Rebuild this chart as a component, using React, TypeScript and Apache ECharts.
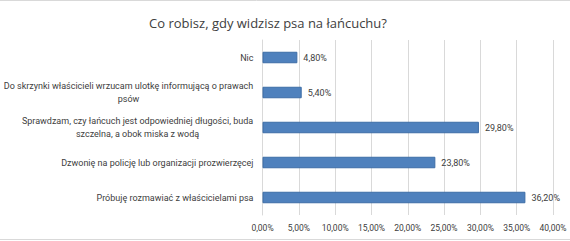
import React, { useEffect, useRef } from 'react';
import * as echarts from 'echarts';

const chartTitle = 'Co robisz, gdy widzisz psa na łańcuchu?';
const categories = [
  'Nic',
  'Do skrzynki właścicieli wrzucam ulotkę informującą o prawach\npsów',
  'Sprawdzam, czy łańcuch jest odpowiedniej długości, buda\nszczelna, a obok miska z wodą',
  'Dzwonię na policję lub organizacji prozwierzęcej',
  'Próbuję rozmawiać z właścicielami psa',
];
const values = [4.8, 5.4, 29.8, 23.8, 36.2];
const axisMin = 0;
const axisMax = 40;
const axisStep = 5;

const FONT = 'Roboto, sans-serif';
const FS = 9;
const TXT = '#404040';

const fmtPct = (v: number) => v.toFixed(2).replace('.', ',') + '%';

function measure(text: string): number {
  const c = document.createElement('canvas');
  const ctx = c.getContext('2d')!;
  ctx.font = `${FS}px ${FONT}`;
  return ctx.measureText(text).width;
}

export default function App() {
  const ref = useRef<HTMLDivElement>(null);
  useEffect(() => {
    if (!ref.current) return;
    const chart = echarts.init(ref.current, undefined, { renderer: 'svg' });
    const rich: Record<string, any> = {
      s: { fontSize: FS, fontFamily: FONT, color: TXT, lineHeight: 13 },
    };
    categories.forEach((c, i) => {
      const lines = c.split('\n');
      if (lines.length > 1) {
        const w = Math.ceil(Math.max(...lines.map(measure)));
        rich['w' + i] = { fontSize: FS, fontFamily: FONT, color: TXT, lineHeight: 13, width: w, align: 'center' };
      }
    });
    chart.setOption({
      animation: false,
      title: {
        text: chartTitle,
        left: 263,
        textAlign: 'center',
        top: 11,
        textStyle: { fontSize: 13, fontWeight: 'normal', color: TXT, fontFamily: 'Open Sans, sans-serif' },
      },
      graphic: [
        { type: 'line', shape: { x1: 0, y1: 0.5, x2: 570, y2: 0.5 }, style: { stroke: '#d9d9d9', lineWidth: 1 } },
        { type: 'line', shape: { x1: 0, y1: 239.5, x2: 570, y2: 239.5 }, style: { stroke: '#d9d9d9', lineWidth: 1 } },
      ],
      grid: { left: 262.5, right: 17, top: 40, bottom: 26, containLabel: false, outerBoundsMode: 'none' },
      xAxis: {
        type: 'value',
        min: axisMin,
        max: axisMax,
        interval: axisStep,
        axisLine: { show: false },
        axisTick: { show: false },
        splitLine: { lineStyle: { color: '#d9d9d9' } },
        axisLabel: { formatter: (v: number) => fmtPct(v), fontSize: 8.5, fontFamily: FONT, color: TXT, margin: 8 },
      },
      yAxis: {
        type: 'category',
        inverse: true,
        data: categories,
        axisLine: { show: true, lineStyle: { color: '#d9d9d9' } },
        axisTick: { show: false },
        axisLabel: {
          margin: 9,
          rich,
          formatter: (val: string, idx: number) => {
            const lines = val.split('\n');
            if (lines.length > 1) return lines.map((l) => `{w${idx}|${l}}`).join('\n');
            return `{s|${val}}`;
          },
        },
      },
      series: [
        {
          type: 'bar',
          data: values,
          barWidth: 11.5,
          itemStyle: { color: '#4F81BD', borderColor: '#3D6DA6', borderWidth: 1 },
          label: {
            show: true,
            position: 'right',
            distance: 6,
            formatter: (p: any) => fmtPct(p.value),
            fontSize: FS,
            fontFamily: FONT,
            color: TXT,
          },
        },
      ],
    });
    return () => chart.dispose();
  }, []);
  return <div ref={ref} style={{ position: 'fixed', left: 0, top: 0, width: 570, height: 241, background: '#fff' }} />;
}
